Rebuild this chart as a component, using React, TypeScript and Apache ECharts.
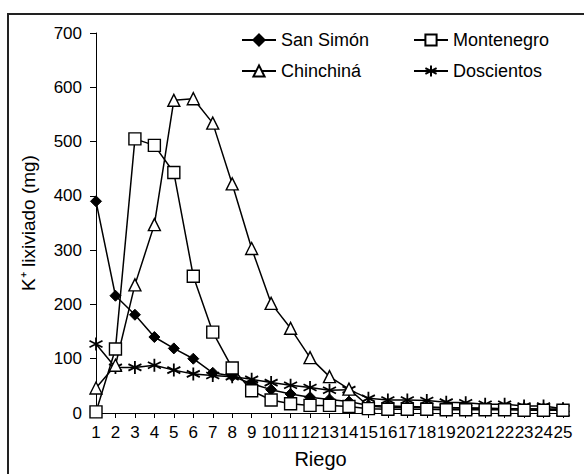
import React, { useEffect, useRef } from "react";
import * as echarts from "echarts";

const categories = Array.from({ length: 25 }, (_, i) => String(i + 1));
const sanSimon = [390, 216, 181, 140, 119, 100, 74, 68, 54, 43, 35, 29, 25, 21, 14, 13, 12, 11, 10, 9, 9, 8, 8, 7, 7];
const montenegro = [2, 118, 505, 493, 443, 252, 149, 83, 41, 24, 17, 14, 14, 12, 8, 7, 7, 7, 6, 6, 6, 6, 5, 5, 5];
const chinchina = [46, 88, 236, 347, 576, 579, 534, 422, 303, 202, 156, 102, 67, 44, 13, 10, 10, 10, 9, 9, 8, 8, 8, 7, 7];
const doscientos = [127, 84, 84, 88, 79, 72, 69, 67, 62, 56, 51, 47, 42, 43, 27, 24, 24, 23, 20, 19, 16, 16, 13, 13, 8];

const FONT = "'Liberation Sans', Arial, sans-serif";
const STAR = "path://M0,-5L0,5M-4.3,-2.5L4.3,2.5M-4.3,2.5L4.3,-2.5";

export default function App() {
  const ref = useRef<HTMLDivElement>(null);
  useEffect(() => {
    if (!ref.current) return;
    const chart = echarts.init(ref.current, null, { renderer: "svg" });
    const lineStyle = { color: "#000", width: 1.5 };
    const mkLegend = (name: string, left: number, top: number) => ({
      data: [name],
      left,
      top,
      itemWidth: 34,
      itemHeight: 14,
      textStyle: { fontFamily: FONT, fontSize: 18, color: "#000" },
    });
    chart.setOption({
      animation: false,
      backgroundColor: "#fff",
      textStyle: { fontFamily: FONT },
      graphic: [
        {
          type: "rect",
          shape: { x: 8, y: 14, width: 620, height: 520 },
          style: { fill: "none", stroke: "#222", lineWidth: 2 },
          silent: true,
        },
      ],
      legend: [
        mkLegend("San Simón", 236, 26),
        mkLegend("Chinchiná", 236, 57),
        mkLegend("Montenegro", 408, 26),
        mkLegend("Doscientos", 408, 57),
      ],
      grid: { left: 96, right: 21, top: 33, bottom: 60 },
      xAxis: {
        type: "category",
        data: categories,
        boundaryGap: false,
        name: "Riego",
        nameLocation: "middle",
        nameGap: 36,
        nameTextStyle: { fontSize: 20, color: "#000", fontFamily: FONT, padding: [0, 18, 0, 0] },
        axisLine: { lineStyle: { color: "#000", width: 1 } },
        axisTick: { show: true, interval: 0, length: 5, lineStyle: { color: "#000" } },
        axisLabel: { interval: 0, fontSize: 17, color: "#000", margin: 11, fontFamily: FONT },
      },
      yAxis: {
        type: "value",
        min: 0,
        max: 700,
        interval: 100,
        name: "K⁺ lixiviado (mg)",
        nameLocation: "middle",
        nameGap: 58,
        nameTextStyle: { fontSize: 19, color: "#000", fontFamily: FONT },
        axisLine: { show: true, lineStyle: { color: "#000", width: 1 } },
        axisTick: { show: true, length: 6, lineStyle: { color: "#000" } },
        axisLabel: { fontSize: 17, color: "#000", margin: 14, fontFamily: FONT },
        splitLine: { show: false },
      },
      series: [
        {
          name: "Doscientos",
          type: "line",
          data: doscientos,
          symbol: STAR,
          symbolSize: 13,
          lineStyle,
          itemStyle: { color: "#000", borderColor: "#000", borderWidth: 1.8 },
        },
        {
          name: "Chinchiná",
          type: "line",
          data: chinchina,
          symbol: "triangle",
          symbolSize: 12,
          lineStyle,
          itemStyle: { color: "#fff", borderColor: "#000", borderWidth: 1.4 },
        },
        {
          name: "San Simón",
          type: "line",
          data: sanSimon,
          symbol: "diamond",
          symbolSize: 11,
          lineStyle,
          itemStyle: { color: "#000", borderColor: "#000", borderWidth: 1 },
        },
        {
          name: "Montenegro",
          type: "line",
          data: montenegro,
          symbol: "rect",
          symbolSize: 12,
          lineStyle,
          itemStyle: { color: "#fff", borderColor: "#000", borderWidth: 1.4 },
        },
      ],
    });
    return () => chart.dispose();
  }, []);
  return <div ref={ref} style={{ width: 584, height: 474, position: "absolute", left: 0, top: 0 }} />;
}
